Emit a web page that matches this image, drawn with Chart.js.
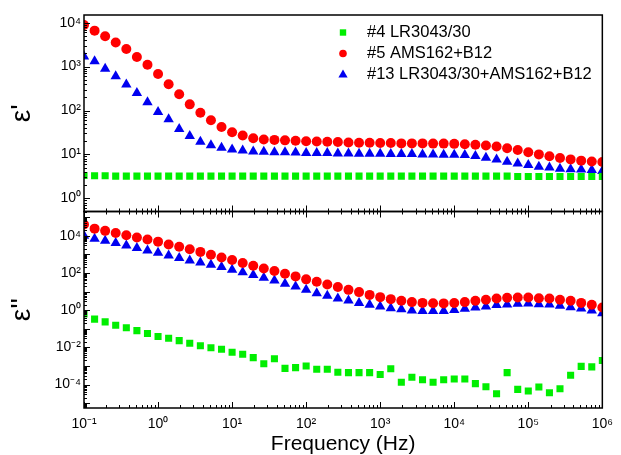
<!DOCTYPE html>
<html>
<head>
<meta charset="utf-8">
<script src="https://cdn.jsdelivr.net/npm/chart.js@4/dist/chart.umd.min.js"></script>
<style>
  html, body { margin: 0; padding: 0; background: #fff; }
  #wrap { position: relative; width: 621px; height: 455px; }
</style>
</head>
<body>
<div id="wrap"><canvas id="chart"></canvas></div>
<script>
// frequency sweep (Hz), 7 points per decade
const frequencies = [0.1, 0.139, 0.193, 0.268, 0.373, 0.518, 0.72,
  1, 1.39, 1.93, 2.68, 3.73, 5.18, 7.2,
  10, 13.9, 19.3, 26.8, 37.3, 51.8, 72,
  100, 139, 193, 268, 373, 518, 720,
  1000, 1390, 1930, 2680, 3730, 5180, 7200,
  1e4, 13900, 19300, 26800, 37300, 51800, 72000,
  1e5, 139000, 193000, 268000, 373000, 518000, 720000, 1e6];

const seriesLabels = ['#4 LR3043/30', '#5 AMS162+B12', '#13 LR3043/30+AMS162+B12'];
const seriesColors = ['#00ee00', '#ff0000', '#0000f0'];

// epsilon' (top panel)
const epsReal4 = [3.3, 3.25, 3.25, 3.2, 3.2, 3.2, 3.2, 3.2, 3.2, 3.2,
  3.2, 3.2, 3.2, 3.2, 3.2, 3.2, 3.2, 3.2, 3.2, 3.2,
  3.2, 3.2, 3.2, 3.2, 3.2, 3.2, 3.2, 3.2, 3.2, 3.2,
  3.2, 3.2, 3.2, 3.2, 3.2, 3.2, 3.2, 3.2, 3.2, 3.2,
  3.2, 3.15, 3.15, 3.15, 3.15, 3.15, 3.15, 3.15, 3.15, 3.15];
const epsReal5 = [8900, 6600, 4900, 3550, 2510, 1660, 1100, 676, 398, 234,
  138, 89, 60, 42, 32, 27, 23.4, 21.9, 21.4, 20.9,
  20.4, 20.0, 19.7, 19.5, 19.1, 18.6, 18.4, 18.4, 18.1, 18.1,
  17.8, 17.8, 17.8, 17.6, 17.6, 17.4, 17.0, 16.6, 16.0, 15.1,
  13.8, 12.6, 11.2, 10.0, 9.1, 8.3, 7.7, 7.2, 6.9, 6.7];
const epsReal13 = [1700, 1320, 890, 600, 390, 250, 155, 93, 63, 38,
  26.3, 19.5, 16.2, 14.1, 12.9, 12.3, 11.7, 11.5, 11.2, 11.2,
  11.0, 10.8, 10.7, 10.7, 10.5, 10.5, 10.35, 10.35, 10.35, 10.2,
  10.2, 10.2, 10.0, 10.0, 9.8, 9.8, 9.7, 9.2, 8.4, 7.7,
  6.8, 6.2, 5.7, 5.25, 5.0, 4.7, 4.6, 4.5, 4.4, 4.2];

// epsilon'' (bottom panel)
const epsImag4 = [0.63, 0.33, 0.234, 0.155, 0.112, 0.079, 0.055, 0.038, 0.031, 0.023,
  0.0166, 0.0123, 0.0095, 0.0079, 0.0055, 0.0043, 0.0028, 0.0013, 0.00245, 0.00074,
  0.00081, 0.001, 0.00066, 0.00066, 0.00046, 0.00044, 0.00044, 0.00044, 0.00035, 0.00071,
  0.000132, 0.000245, 0.000182, 0.000132, 0.000182, 0.0002, 0.0002, 0.000112, 0.000076, 0.000032,
  0.00044, 0.000055, 0.000045, 0.000074, 0.000036, 0.00006, 0.00032, 0.00095, 0.00089, 0.00195];
const epsImag5 = [40000, 24000, 18200, 14100, 10500, 8100, 6200, 4800, 3400, 2570,
  1860, 1350, 955, 676, 490, 339, 245, 174, 126, 91,
  65, 45, 33.5, 24, 17.4, 12.3, 9.3, 6.6, 5.0, 3.9,
  3.2, 2.7, 2.45, 2.35, 2.3, 2.4, 2.7, 3.2, 3.6, 4.2,
  4.6, 4.8, 4.8, 4.4, 4.2, 3.6, 3.2, 2.45, 1.93, 1.38];
const epsImag13 = [10000, 6900, 5400, 4100, 3000, 2200, 1620, 1230, 870, 630,
  470, 360, 275, 210, 148, 107, 78, 55, 39, 26,
  18.6, 12.3, 8.2, 5.9, 4.2, 3.3, 2.4, 1.93, 1.57, 1.27,
  1.12, 0.95, 0.91, 0.91, 0.91, 1.03, 1.17, 1.38, 1.57, 1.86,
  2.0, 2.19, 2.26, 2.09, 2.0, 1.7, 1.45, 1.22, 0.95, 0.69];

const xTicks = [0.1, 1, 10, 100, 1e3, 1e4, 1e5, 1e6];
const yTicksReal = [1, 10, 100, 1e3, 1e4];
const yTicksImag = [1e-4, 1e-2, 1, 1e2, 1e4];

const FONT = 'Arial, "Liberation Sans", sans-serif';
Chart.defaults.font.family = FONT;
Chart.defaults.color = '#000';

const SUP = {'-': '\u207B', '0': '\u2070', '1': '\u00B9', '2': '\u00B2', '3': '\u00B3',
  '4': '\u2074', '5': '\u2075', '6': '\u2076', '7': '\u2077', '8': '\u2078', '9': '\u2079'};
function powLabel(v) {
  const e = Math.round(Math.log10(v));
  return '10' + String(e).split('').map(c => SUP[c]).join('');
}

function points(values) {
  return frequencies.map((f, i) => ({x: f, y: values[i]}));
}

const styles = ['rect', 'circle', 'triangle'];
const radii = [5, 5, 6];

function makeSet(idx, values, axis) {
  return {
    label: seriesLabels[idx],
    data: points(values),
    yAxisID: axis,
    pointStyle: styles[idx],
    pointRadius: radii[idx],
    backgroundColor: seriesColors[idx],
    borderColor: seriesColors[idx],
    borderWidth: 0,
    showLine: false
  };
}

// frame, inward ticks and legend are drawn here
const framePlugin = {
  id: 'frame',
  afterDraw(chart) {
    const ctx = chart.ctx;
    const {left, right} = chart.chartArea;
    const xs = chart.scales.x, yRe = chart.scales.yRe, yIm = chart.scales.yIm;
    ctx.save();
    ctx.strokeStyle = '#000';
    ctx.lineWidth = 1.5;
    [yRe, yIm].forEach(s => ctx.strokeRect(left, s.top, right - left, s.bottom - s.top));

    ctx.lineWidth = 1;
    ctx.beginPath();
    for (let e = -1; e < 6; e++) {
      for (let m = 1; m < 10; m++) {
        const px = Math.round(xs.getPixelForValue(m * Math.pow(10, e))) + 0.5;
        const len = m === 1 ? 6 : 3;
        ctx.moveTo(px, yRe.bottom); ctx.lineTo(px, yRe.bottom - len);
        ctx.moveTo(px, yIm.top); ctx.lineTo(px, yIm.top + len);
        ctx.moveTo(px, yIm.bottom); ctx.lineTo(px, yIm.bottom - len);
      }
    }
    [[yRe, -1, 5], [yIm, -6, 6]].forEach(([s, e0, e1]) => {
      for (let e = e0; e < e1; e++) {
        for (let m = 1; m < 10; m++) {
          const v = m * Math.pow(10, e);
          if (v < s.min || v > s.max) continue;
          const py = Math.round(s.getPixelForValue(v)) + 0.5;
          const len = m === 1 ? 6 : 3;
          ctx.moveTo(left, py); ctx.lineTo(left + len, py);
        }
      }
    });
    ctx.stroke();

    // legend
    const lx = 343, rows = [32.5, 53.5, 74];
    ctx.font = '16.5px ' + FONT;
    ctx.textBaseline = 'middle';
    ctx.textAlign = 'left';
    seriesLabels.forEach((lab, i) => {
      const y = rows[i];
      ctx.fillStyle = seriesColors[i];
      ctx.beginPath();
      if (i === 0) {
        ctx.rect(lx - 3.2, y - 3.2, 6.4, 6.4);
      } else if (i === 1) {
        ctx.arc(lx, y, 3.8, 0, Math.PI * 2);
      } else {
        ctx.moveTo(lx, y - 4.6);
        ctx.lineTo(lx + 4.6, y + 3.4);
        ctx.lineTo(lx - 4.6, y + 3.4);
        ctx.closePath();
      }
      ctx.fill();
      ctx.fillStyle = '#000';
      ctx.fillText(lab, 367, y);
    });
    ctx.restore();
  }
};

const tickFont = {size: 14};

new Chart(document.getElementById('chart'), {
  type: 'scatter',
  data: {
    datasets: [
      makeSet(0, epsReal4, 'yRe'),
      makeSet(1, epsReal5, 'yRe'),
      makeSet(2, epsReal13, 'yRe'),
      makeSet(0, epsImag4, 'yIm'),
      makeSet(1, epsImag5, 'yIm'),
      makeSet(2, epsImag13, 'yIm')
    ]
  },
  options: {
    responsive: true,
    maintainAspectRatio: false,
    animation: false,
    layout: {padding: {top: 15, right: 9, left: 0, bottom: 0}},
    plugins: {
      legend: {display: false},
      tooltip: {enabled: false}
    },
    scales: {
      x: {
        type: 'logarithmic',
        position: 'bottom',
        min: 0.1,
        max: 1e6,
        afterBuildTicks: s => { s.ticks = xTicks.map(v => ({value: v})); },
        afterFit: s => { s.height = 47; },
        grid: {display: false, drawTicks: false},
        border: {display: false},
        ticks: {callback: v => powLabel(v), autoSkip: false, maxRotation: 0, font: tickFont, padding: 8},
        title: {display: true, text: 'Frequency (Hz)', font: {size: 21, lineHeight: 1}, padding: {top: 0, bottom: 0}}
      },
      yIm: {
        type: 'logarithmic',
        position: 'left',
        stack: 'eps',
        stackWeight: 1,
        min: 5.5e-6,
        max: 2e5,
        afterBuildTicks: s => { s.ticks = yTicksImag.map(v => ({value: v})); },
        afterFit: s => { s.width = 84; },
        grid: {display: false, drawTicks: false},
        border: {display: false},
        ticks: {callback: v => powLabel(v), autoSkip: false, font: tickFont, padding: 3},
        title: {display: true, text: "\u03B5''", font: {size: 28, lineHeight: 1.2}, padding: {top: 5, bottom: 0}}
      },
      yRe: {
        type: 'logarithmic',
        position: 'left',
        stack: 'eps',
        stackWeight: 1,
        min: 0.5,
        max: 1.5e4,
        afterBuildTicks: s => { s.ticks = yTicksReal.map(v => ({value: v})); },
        afterFit: s => { s.width = 84; },
        grid: {display: false, drawTicks: false},
        border: {display: false},
        ticks: {callback: v => powLabel(v), autoSkip: false, font: tickFont, padding: 3},
        title: {display: true, text: "\u03B5'", font: {size: 28, lineHeight: 1.2}, padding: {top: 5, bottom: 0}}
      }
    }
  },
  plugins: [framePlugin]
});
</script>
</body>
</html>
